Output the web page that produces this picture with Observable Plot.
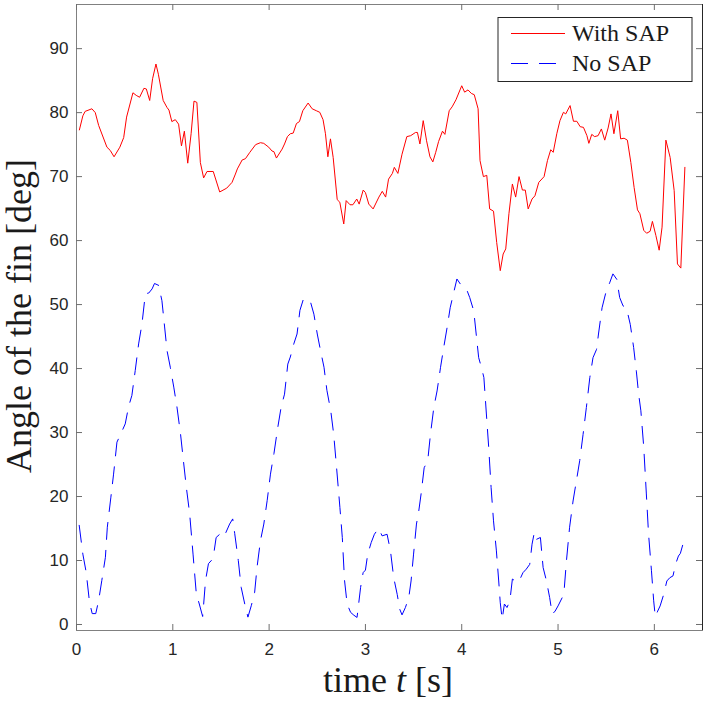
<!DOCTYPE html>
<html><head><meta charset="utf-8">
<script src="https://cdn.jsdelivr.net/npm/d3@7"></script>
<script src="https://cdn.jsdelivr.net/npm/@observablehq/plot@0.6"></script>
<style>body{margin:0;background:#fff}</style>
</head><body><div id="chart"></div>
<script>
const sapT = [0.03,0.066,0.09,0.16,0.195,0.23,0.316,0.35,0.39,0.45,0.49,0.52,0.586,0.62,0.655,0.70,0.725,0.76,0.79,0.825,0.85,0.90,0.94,0.96,0.99,1.026,1.06,1.09,1.12,1.155,1.19,1.22,1.25,1.286,1.32,1.355,1.42,1.487,1.56,1.615,1.65,1.67,1.72,1.754,1.80,1.86,1.91,1.944,1.996,2.03,2.05,2.076,2.135,2.16,2.19,2.22,2.25,2.284,2.315,2.35,2.405,2.447,2.49,2.526,2.56,2.585,2.61,2.637,2.665,2.707,2.734,2.775,2.80,2.84,2.87,2.91,2.935,2.977,3.0,3.035,3.08,3.14,3.175,3.21,3.24,3.28,3.30,3.337,3.38,3.43,3.47,3.52,3.54,3.566,3.60,3.635,3.67,3.70,3.73,3.76,3.80,3.825,3.87,3.90,3.94,4.0,4.03,4.065,4.10,4.13,4.17,4.19,4.225,4.26,4.29,4.33,4.363,4.40,4.43,4.457,4.49,4.526,4.56,4.595,4.63,4.66,4.69,4.73,4.76,4.80,4.855,4.89,4.924,4.95,4.987,5.02,5.056,5.08,5.125,5.16,5.195,5.23,5.264,5.30,5.32,5.35,5.38,5.416,5.45,5.485,5.52,5.55,5.58,5.62,5.65,5.686,5.72,5.756,5.79,5.825,5.85,5.89,5.92,5.956,5.98,6.016,6.05,6.08,6.12,6.164,6.206,6.24,6.275,6.317];
const sapV = [77.3,79.5,80.2,80.6,80.0,78.0,74.6,74.1,73.1,74.6,76.1,79.3,83.1,82.7,82.4,83.8,83.7,81.9,85.3,87.6,86.0,81.9,80.8,80.4,78.6,78.9,78.2,74.8,77.1,72.1,76.7,81.8,81.6,72.2,69.8,70.8,70.8,67.6,68.2,69.1,70.4,71.2,72.6,72.8,73.8,75.0,75.3,75.2,74.6,74.0,73.9,72.9,74.3,75.1,76.25,76.7,76.8,78.3,78.6,80.3,81.5,80.6,80.3,80.05,78.9,76.7,73.1,75.9,73.0,66.4,66.0,62.6,66.25,65.6,65.6,66.5,65.7,67.9,67.5,65.7,64.95,66.8,67.7,66.8,69.6,70.5,71.45,70.5,73.5,76.25,76.4,76.9,76.9,75.1,78.75,75.6,73.1,72.3,73.8,75.5,77.1,76.6,80.3,80.9,82.0,84.2,83.2,83.55,83.0,82.8,80.6,72.5,70.0,70.2,64.95,64.6,59.7,55.3,57.9,58.7,64.2,68.85,66.8,70.0,67.9,67.9,64.95,66.5,67.0,69.1,70.0,72.5,74.2,73.8,76.7,78.75,80.05,79.8,81.1,78.65,78.65,77.8,77.7,76.4,75.2,76.6,76.25,76.4,77.45,75.7,77.6,79.8,76.7,80.3,75.9,76.0,75.7,72.2,68.3,64.8,64.2,61.6,61.15,61.45,63.0,60.8,58.5,62.1,75.7,73.0,67.8,56.35,55.7,71.45];

const noSapT = [0.028,0.066,0.10,0.135,0.163,0.20,0.23,0.263,0.30,0.32,0.357,0.385,0.42,0.46,0.506,0.54,0.575,0.61,0.645,0.68,0.715,0.75,0.785,0.81,0.853,0.887,0.915,0.94,0.974,1.01,1.043,1.08,1.11,1.14,1.175,1.21,1.244,1.275,1.31,1.34,1.37,1.418,1.45,1.487,1.51,1.546,1.59,1.622,1.643,1.68,1.71,1.747,1.78,1.816,1.85,1.875,1.91,1.945,1.98,2.014,2.05,2.09,2.125,2.16,2.194,2.22,2.256,2.29,2.32,2.353,2.39,2.43,2.465,2.50,2.534,2.57,2.60,2.64,2.67,2.70,2.735,2.76,2.783,2.81,2.846,2.88,2.913,2.95,2.976,3.0,3.024,3.06,3.093,3.138,3.173,3.225,3.26,3.294,3.33,3.356,3.38,3.415,3.45,3.474,3.50,3.53,3.554,3.578,3.61,3.647,3.675,3.71,3.744,3.78,3.813,3.848,3.88,3.917,3.95,4.0,4.05,4.083,4.125,4.15,4.176,4.204,4.23,4.256,4.28,4.305,4.33,4.36,4.384,4.40,4.42,4.443,4.47,4.50,4.526,4.557,4.59,4.636,4.67,4.706,4.73,4.754,4.775,4.817,4.845,4.88,4.913,4.94,4.97,5.0,5.06,5.087,5.12,5.156,5.19,5.225,5.26,5.294,5.33,5.363,5.40,5.42,5.457,5.50,5.536,5.57,5.61,5.64,5.675,5.71,5.75,5.785,5.813,5.837,5.86,5.89,5.917,5.94,5.97,5.993,6.01,6.035,6.06,6.097,6.13,6.16,6.194,6.22,6.25,6.27,6.297];
const noSapV = [15.5,11.0,8.2,3.5,1.7,1.7,3.75,6.9,10.5,15.2,19.9,23.5,28.5,29.8,31.35,34.0,35.8,39.7,43.85,47.0,51.7,51.8,52.45,53.3,53.0,50.6,46.5,42.8,40.2,37.1,34.0,29.8,25.6,21.5,17.3,11.0,4.8,3.2,1.25,6.9,9.5,10.3,13.6,14.1,13.6,14.2,15.7,16.5,14.2,10.0,5.8,3.2,1.15,3.0,5.05,9.0,13.1,15.7,19.4,23.5,26.7,30.8,34.0,36.0,40.7,41.8,43.85,45.4,49.1,50.7,51.0,50.4,48.5,45.4,42.8,40.2,36.6,33.4,29.8,24.6,18.3,13.6,6.9,3.2,1.9,1.45,1.1,5.8,8.1,8.5,11.0,12.8,14.1,15.05,13.85,14.1,11.5,7.3,4.7,2.4,1.5,2.65,4.2,6.8,11.0,15.7,17.75,20.4,24.5,25.6,29.7,33.9,36.5,40.2,43.3,46.4,49.5,51.9,54.0,52.9,52.4,51.1,49.0,45.4,41.7,40.2,38.6,32.9,27.7,21.4,16.2,11.5,6.8,3.4,0.8,3.2,2.65,3.7,7.1,6.8,6.6,8.1,8.65,9.4,12.55,14.4,13.3,13.6,8.9,6.8,4.2,1.6,2.1,2.9,4.7,9.9,15.2,19.3,22.4,25.6,29.7,33.9,38.6,41.7,43.0,45.4,49.5,52.1,53.4,54.8,53.95,51.1,49.8,49.5,46.9,43.3,39.6,36.0,33.4,27.7,20.4,14.1,8.4,3.7,1.2,2.1,2.9,4.7,6.8,7.3,7.6,9.4,10.7,11.1,12.55];

const xTicks = [0,1,2,3,4,5,6];
const yTicks = [0,10,20,30,40,50,60,70,80,90];
const seriesNames = ["With SAP", "No SAP"];
const seriesColors = ["#ff0000", "#0000ff"];
const dash = "17,11";

const withSap = sapT.map((t, i) => ({t, v: sapV[i]}));
const noSap = noSapT.map((t, i) => ({t, v: noSapV[i]}));

const tickColor = "#6e6e6e";
const plot = Plot.plot({
  width: 707, height: 705,
  marginLeft: 76, marginRight: 5, marginTop: 4, marginBottom: 75,
  style: {background: "#fff", fontFamily: "'Liberation Sans', Arial, Helvetica, sans-serif", fontSize: "17px", color: "#262626"},
  x: {domain: [0, 6.5]},
  y: {domain: [-0.94, 96.9]},
  marks: [
    Plot.frame({stroke: "#808080", strokeWidth: 1}),
    Plot.ruleX([6.5], {stroke: "#262626", strokeWidth: 1}),
    Plot.tickX(xTicks, {x: d => d, insetTop: 620, stroke: tickColor}),
    Plot.tickX(xTicks, {x: d => d, insetBottom: 620, stroke: tickColor}),
    Plot.tickY(yTicks, {y: d => d, insetRight: 620, stroke: tickColor}),
    Plot.tickY(yTicks, {y: d => d, insetLeft: 620, stroke: tickColor}),
    Plot.axisX({ticks: xTicks, anchor: "bottom", tickSize: 0, tickPadding: 12, label: null, fontSize: 17, tickFormat: d => String(d)}),
    Plot.axisY({ticks: yTicks, anchor: "left", tickSize: 0, tickPadding: 8, label: null, fontSize: 17, tickFormat: d => String(d)}),
    Plot.line(withSap, {x: "t", y: "v", stroke: seriesColors[0], strokeWidth: 1}),
    Plot.line(noSap, {x: "t", y: "v", stroke: seriesColors[1], strokeWidth: 1, strokeDasharray: dash})
  ]
});
document.getElementById("chart").appendChild(plot);

const svg = d3.select(plot);
const serif = "'Liberation Serif', 'Times New Roman', serif";
// x label
const xl = svg.append("text").attr("x", 388).attr("y", 692).attr("text-anchor", "middle")
  .attr("font-family", serif).attr("font-size", 36).attr("fill", "#1a1a1a");
xl.append("tspan").text("time ");
xl.append("tspan").attr("font-style", "italic").text("t");
xl.append("tspan").text(" [s]");
// y label
svg.append("text").attr("transform", "translate(31,316) rotate(-90)").attr("text-anchor", "middle")
  .attr("font-family", serif).attr("font-size", 36).attr("fill", "#1a1a1a")
  .text("Angle of the fin [deg]");
// legend
const lg = svg.append("g");
lg.append("rect").attr("x", 498).attr("y", 17.5).attr("width", 194).attr("height", 64)
  .attr("fill", "#fff").attr("stroke", "#262626").attr("stroke-width", 1);
seriesNames.forEach((name, i) => {
  const y = 33.5 + i * 30;
  lg.append("line").attr("x1", 511).attr("x2", 565).attr("y1", y).attr("y2", y)
    .attr("stroke", seriesColors[i]).attr("stroke-width", 1)
    .attr("stroke-dasharray", i === 1 ? dash : null);
  lg.append("text").attr("x", 572).attr("y", y + 7.5).attr("text-anchor", "start")
    .attr("font-family", serif).attr("font-size", 24).attr("fill", "#1a1a1a").text(name);
});
</script>
</body></html>
